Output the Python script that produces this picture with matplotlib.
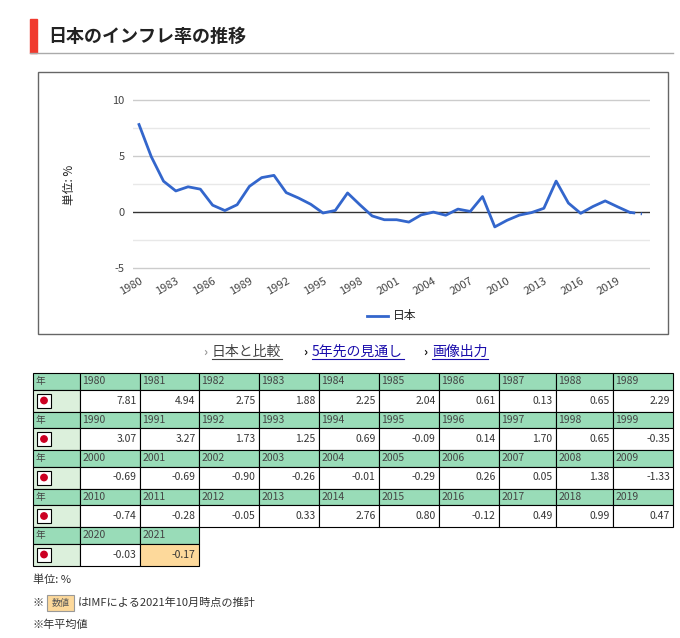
import matplotlib
matplotlib.use('Agg')
import matplotlib.pyplot as plt
import matplotlib.patches as mpatches

plt.rcParams['font.family'] = ['Noto Sans CJK JP', 'DejaVu Sans']

# Data
years = list(range(1980, 2022))
values = [7.81, 4.94, 2.75, 1.88, 2.25, 2.04, 0.61, 0.13, 0.65, 2.29,
          3.07, 3.27, 1.73, 1.25, 0.69, -0.09, 0.14, 1.70, 0.65, -0.35,
          -0.69, -0.69, -0.90, -0.26, -0.01, -0.29, 0.26, 0.05, 1.38, -1.33,
          -0.74, -0.28, -0.05, 0.33, 2.76, 0.80, -0.12, 0.49, 0.99, 0.47,
          -0.03, -0.17]
xtick_years = list(range(1980, 2021, 3))
yticks = [-5, 0, 5, 10]
estimate_from = 2021

W, H = 680, 638
fig = plt.figure(figsize=(W / 100, H / 100), dpi=100)

# Page layer in pixel coordinates
page = fig.add_axes([0, 0, 1, 1])
page.set_xlim(0, W)
page.set_ylim(H, 0)
page.axis('off')

# Title
page.add_patch(mpatches.Rectangle((30, 19), 7, 34, color='#f03a2e'))
page.plot([30, 673], [52.5, 52.5], color='#aaaaaa', lw=1)
page.text(48, 36, '日本のインフレ率の推移', fontsize=13, fontweight='bold', va='center', color='#222222')

# Chart frame
page.add_patch(mpatches.Rectangle((38, 72), 630, 262, fill=False, ec='#666666', lw=1))

# Chart axes
x0, x1, y0, y1 = 133, 650, 86, 270
ax = fig.add_axes([x0 / W, 1 - y1 / H, (x1 - x0) / W, (y1 - y0) / H])
px_per_yr = (642 - 139) / 41
ax.set_xlim(1980 - (139 - x0) / px_per_yr, 2021 + (x1 - 642) / px_per_yr)
ppu = 56 / 5
ax.set_ylim(-(y1 - 212) / ppu, (212 - y0) / ppu)
for g in [-5, -2.5, 2.5, 5, 7.5, 10]:
    ax.axhline(g, color='#cccccc' if g % 5 == 0 else '#e8e8e8', lw=1, zorder=0)
ax.axhline(0, color='#333333', lw=1, zorder=1)
ax.plot(years[:-1], values[:-1], color='#3366cc', lw=2, zorder=2)
ax.plot(years[-2:], values[-2:], color='#3366cc', lw=2, ls=(0, (2, 2)), zorder=2)
ax.set_yticks(yticks)
ax.set_yticklabels([str(t) for t in yticks], fontsize=8, color='#444444')
ax.set_xticks(xtick_years)
ax.set_xticklabels([str(t) for t in xtick_years], rotation=30, ha='right',
                   rotation_mode='anchor', fontsize=8, color='#444444')
ax.tick_params(axis='y', length=0, pad=6)
ax.tick_params(axis='x', length=0, pad=4)
for s in ax.spines.values():
    s.set_visible(False)
ax.patch.set_alpha(0)
page.text(70, 185, '単位: %', rotation=90, fontsize=8.5, ha='center', va='center', color='#222222')

# Legend
page.plot([367, 388], [316, 316], color='#3366cc', lw=2)
page.text(393, 316, '日本', fontsize=8.5, va='center', color='#222222')

# Links
links = [('日本と比較', 212, '#444444', '#999999'), ('5年先の見通し', 312, '#1a0dab', '#111111'),
         ('画像出力', 432, '#1a0dab', '#111111')]
for label, lx, col, ccol in links:
    page.text(lx - 9, 352, '›', fontsize=9, fontweight='bold', va='center', color=ccol)
    page.text(lx, 352, label, fontsize=10, va='center', color=col)
page.plot([212, 282], [359, 359], color='#444444', lw=0.8)
page.plot([312, 404], [359, 359], color='#1a0dab', lw=0.8)
page.plot([432, 488], [359, 359], color='#1a0dab', lw=0.8)

# Table
col_x = [33, 79.5, 139.5, 198.5, 258.5, 318.5, 378.5, 438.5, 498.5, 555.5, 612.5, 673]
hdr_h, dat_h = 16.5, 22
top = 373
for r in range(5):
    yh = top + r * (hdr_h + dat_h)
    yd = yh + hdr_h
    n = min(10, len(years) - r * 10)
    page.add_patch(mpatches.Rectangle((col_x[0], yh), col_x[1] - col_x[0], hdr_h, fc='#99dcb8', ec='black', lw=0.8))
    page.add_patch(mpatches.Rectangle((col_x[0], yd), col_x[1] - col_x[0], dat_h, fc='#dcf0dc', ec='black', lw=0.8))
    page.text(col_x[0] + 3, yh + hdr_h / 2, '年', fontsize=7, va='center', color='#444444')
    page.add_patch(mpatches.Rectangle((col_x[0] + 4, yd + 4), 14, 14, fc='white', ec='black', lw=0.8))
    page.add_patch(mpatches.Circle((col_x[0] + 11, yd + 11), 3.2, color='#cc0022'))
    for c in range(n):
        i = r * 10 + c
        xa, xb = col_x[c + 1], col_x[c + 2]
        page.add_patch(mpatches.Rectangle((xa, yh), xb - xa, hdr_h, fc='#99dcb8', ec='black', lw=0.8))
        fc = '#fdd99b' if years[i] >= estimate_from else 'white'
        page.add_patch(mpatches.Rectangle((xa, yd), xb - xa, dat_h, fc=fc, ec='black', lw=0.8))
        page.text(xa + 3, yh + hdr_h / 2, str(years[i]), fontsize=7.5, va='center', color='#444444')
        page.text(xb - 3, yd + dat_h / 2, '%.2f' % values[i], fontsize=7.5, va='center', ha='right', color='#333333')

# Notes
page.text(33, 580, '単位: %', fontsize=8, va='center', color='#333333')
page.text(33, 603, '※', fontsize=8, va='center', color='#333333')
page.add_patch(mpatches.Rectangle((47, 595), 27, 16, fc='#fdd99b', ec='#999999', lw=0.8))
page.text(60.5, 603, '数値', fontsize=6.5, va='center', ha='center', color='#555555')
page.text(78, 603, 'はIMFによる2021年10月時点の推計', fontsize=8, va='center', color='#333333')
page.text(33, 625, '※年平均値', fontsize=8, va='center', color='#333333')

fig.savefig('out.png', dpi=100)
